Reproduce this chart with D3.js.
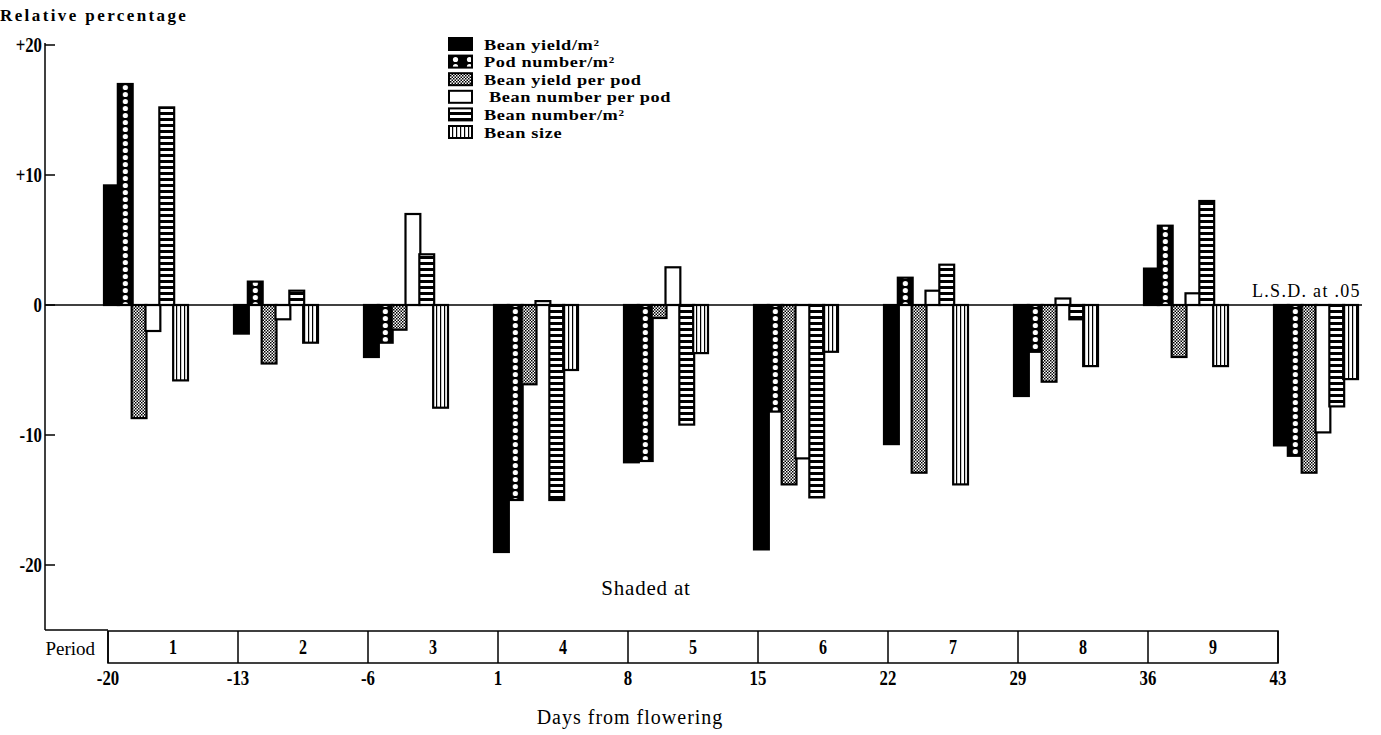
<!DOCTYPE html>
<html><head><meta charset="utf-8">
<script src="https://cdn.jsdelivr.net/npm/d3@7/dist/d3.min.js"></script>
<style>body{margin:0;background:#fff}svg{display:block}text{font-family:"Liberation Serif","Times New Roman",serif;fill:#000}</style>
</head><body><svg id="c" width="1381" height="735"></svg>
<script>
// ---- data ----
const groupDays = [-20, -13, -6, 1, 8, 15, 22, 29, 36, 43]; // last group = L.S.D. at .05
const periodLabels = ["1","2","3","4","5","6","7","8","9"];
const dayTicks = [-20, -13, -6, 1, 8, 15, 22, 29, 36, 43];
const yTicks = [20, 10, 0, -10, -20];
const yTickLabels = ["+20", "+10", "0", "-10", "-20"];
const seriesNames = ["Bean yield/m²", "Pod number/m²", "Bean yield per pod", "Bean number per pod", "Bean number/m²", "Bean size"];
const beanYield    = [9.2, -2.2, -4.0, -19.0, -12.1, -18.8, -10.7, -7.0, 2.8, -10.8];
const podNumber    = [17.0, 1.8, -2.9, -15.0, -12.0, -8.2, 2.1, -3.6, 6.1, -11.6];
const yieldPerPod  = [-8.7, -4.5, -1.9, -6.1, -1.0, -13.8, -12.9, -5.9, -4.0, -12.9];
const numberPerPod = [-2.0, -1.1, 7.0, 0.3, 2.9, -11.8, 1.1, 0.5, 0.9, -9.8];
const beanNumber   = [15.2, 1.1, 3.9, -15.0, -9.2, -14.8, 3.1, -1.1, 8.0, -7.8];
const beanSize     = [-5.8, -2.9, -7.9, -5.0, -3.7, -3.6, -13.8, -4.7, -4.7, -5.7];
const seriesValues = [beanYield, podNumber, yieldPerPod, numberPerPod, beanNumber, beanSize];

// ---- drawing ----
const svg = d3.select("#c");
const defs = svg.append("defs");
function dotsPattern(id, x0){
  const p = defs.append("pattern").attr("id",id).attr("patternUnits","userSpaceOnUse").attr("x",x0).attr("y",0).attr("width",14).attr("height",7);
  p.append("rect").attr("width",14).attr("height",7).attr("fill","#000");
  p.append("circle").attr("cx",7.5).attr("cy",3.5).attr("r",2.6).attr("fill","#fff");
}
(function(){
  let p = defs.append("pattern").attr("id","pCross").attr("patternUnits","userSpaceOnUse").attr("width",3).attr("height",3);
  p.append("rect").attr("width",3).attr("height",3).attr("fill","#fff");
  p.append("rect").attr("width",1.5).attr("height",1.5).attr("fill","#000");
  p.append("rect").attr("x",1.5).attr("y",1.5).attr("width",1.5).attr("height",1.5).attr("fill","#000");
  p = defs.append("pattern").attr("id","pH").attr("patternUnits","userSpaceOnUse").attr("width",20).attr("height",6);
  p.append("rect").attr("width",20).attr("height",6).attr("fill","#000");
  p.append("rect").attr("x",0).attr("y",1).attr("width",20).attr("height",3).attr("fill","#fff");
  p = defs.append("pattern").attr("id","pV").attr("patternUnits","userSpaceOnUse").attr("width",4).attr("height",10);
  p.append("rect").attr("width",4).attr("height",10).attr("fill","#fff");
  p.append("rect").attr("x",0).attr("width",1.2).attr("height",10).attr("fill","#000");
})();
const fills = ["#000", null, "url(#pCross)", "#fff", "url(#pH)", "url(#pV)"];

const y = d3.scaleLinear().domain([-20, 20]).range([565, 45]);
const xDay = d3.scaleLinear().domain([-20, 43]).range([108, 1278]);
const xInner = d3.scaleBand().domain(d3.range(6)).range([0, 83]);

function numText(sel, x, yy, txt, anchor, size){
  // condensed bold numerals
  return sel.append("text").attr("transform",`translate(${x},${yy}) scale(0.8,1)`)
    .attr("text-anchor",anchor).attr("font-size",size).attr("font-weight","bold").text(txt);
}

// y axis
svg.append("line").attr("x1",45).attr("x2",45).attr("y1",y(20)-2).attr("y2",630).attr("stroke","#000").attr("stroke-width",1.5);
svg.append("line").attr("x1",45).attr("x2",xDay(-20)).attr("y1",630).attr("y2",630).attr("stroke","#000").attr("stroke-width",1.5);
const yAx = svg.append("g");
yTicks.forEach((t,i)=>{
  yAx.append("line").attr("x1",45).attr("x2",55).attr("y1",y(t)).attr("y2",y(t)).attr("stroke","#000").attr("stroke-width",1.5);
  numText(yAx, 42, y(t)+7, yTickLabels[i], "end", 21);
});
svg.append("text").attr("x",0).attr("y",21).attr("font-size",17).attr("font-weight","bold").attr("letter-spacing",2.4).text("Relative percentage");

// zero line
svg.append("line").attr("x1",45).attr("x2",1362).attr("y1",y(0)).attr("y2",y(0)).attr("stroke","#000").attr("stroke-width",1.5);

// bars
const g = svg.append("g");
groupDays.forEach((d,gi)=>{
  const gx = xDay(d) - 4;
  seriesValues.forEach((vals,si)=>{
    const v = vals[gi];
    const bx = gx + xInner(si);
    let f = fills[si];
    if (si === 1){ dotsPattern("pDots"+gi, bx); f = `url(#pDots${gi})`; }
    g.append("rect")
      .attr("x", bx)
      .attr("width", xInner.bandwidth() + 1)
      .attr("y", Math.min(y(v), y(0)))
      .attr("height", Math.abs(y(v) - y(0)))
      .attr("fill", f).attr("stroke","#000").attr("stroke-width",2.2);
  });
});
svg.append("text").attr("x",1252).attr("y",297).attr("font-size",18).attr("letter-spacing",1.3).text("L.S.D. at .05");

// legend
const lg = svg.append("g");
dotsPattern("pDotsLeg", 448);
const legFills = ["#000", "url(#pDotsLeg)", "url(#pCross)", "#fff", "url(#pH)", "url(#pV)"];
seriesNames.forEach((n,i)=>{
  const ly = 44 + i*17.6;
  lg.append("rect").attr("x",449).attr("y",ly-6).attr("width",23).attr("height",12)
    .attr("fill",legFills[i]).attr("stroke","#000").attr("stroke-width",2);
  const tx = i===3 ? 489 : 484;
  lg.append("text").attr("transform",`translate(${tx},${ly+5.5}) scale(1.22,1)`).attr("font-size",15)
    .attr("font-weight","bold").attr("letter-spacing",0.5).text(n);
});

// period table
const tb = svg.append("g");
tb.append("rect").attr("x",xDay(-20)).attr("y",631).attr("width",xDay(43)-xDay(-20)).attr("height",32)
  .attr("fill","none").attr("stroke","#000").attr("stroke-width",1.5);
dayTicks.forEach(d=>{
  tb.append("line").attr("x1",xDay(d)).attr("x2",xDay(d)).attr("y1",631).attr("y2",663).attr("stroke","#000").attr("stroke-width",1.5);
  numText(tb, xDay(d), 685, String(d), "middle", 21);
});
periodLabels.forEach((p,i)=>{
  numText(tb, (xDay(dayTicks[i])+xDay(dayTicks[i+1]))/2, 654, p, "middle", 20);
});
svg.append("text").attr("x",95).attr("y",655).attr("text-anchor","end").attr("font-size",19).text("Period");
svg.append("text").attr("x",646).attr("y",595).attr("text-anchor","middle").attr("font-size",21).attr("letter-spacing",0.8).text("Shaded at");
svg.append("text").attr("x",630).attr("y",724).attr("text-anchor","middle").attr("font-size",20).attr("letter-spacing",1).text("Days from flowering");
</script></body></html>
